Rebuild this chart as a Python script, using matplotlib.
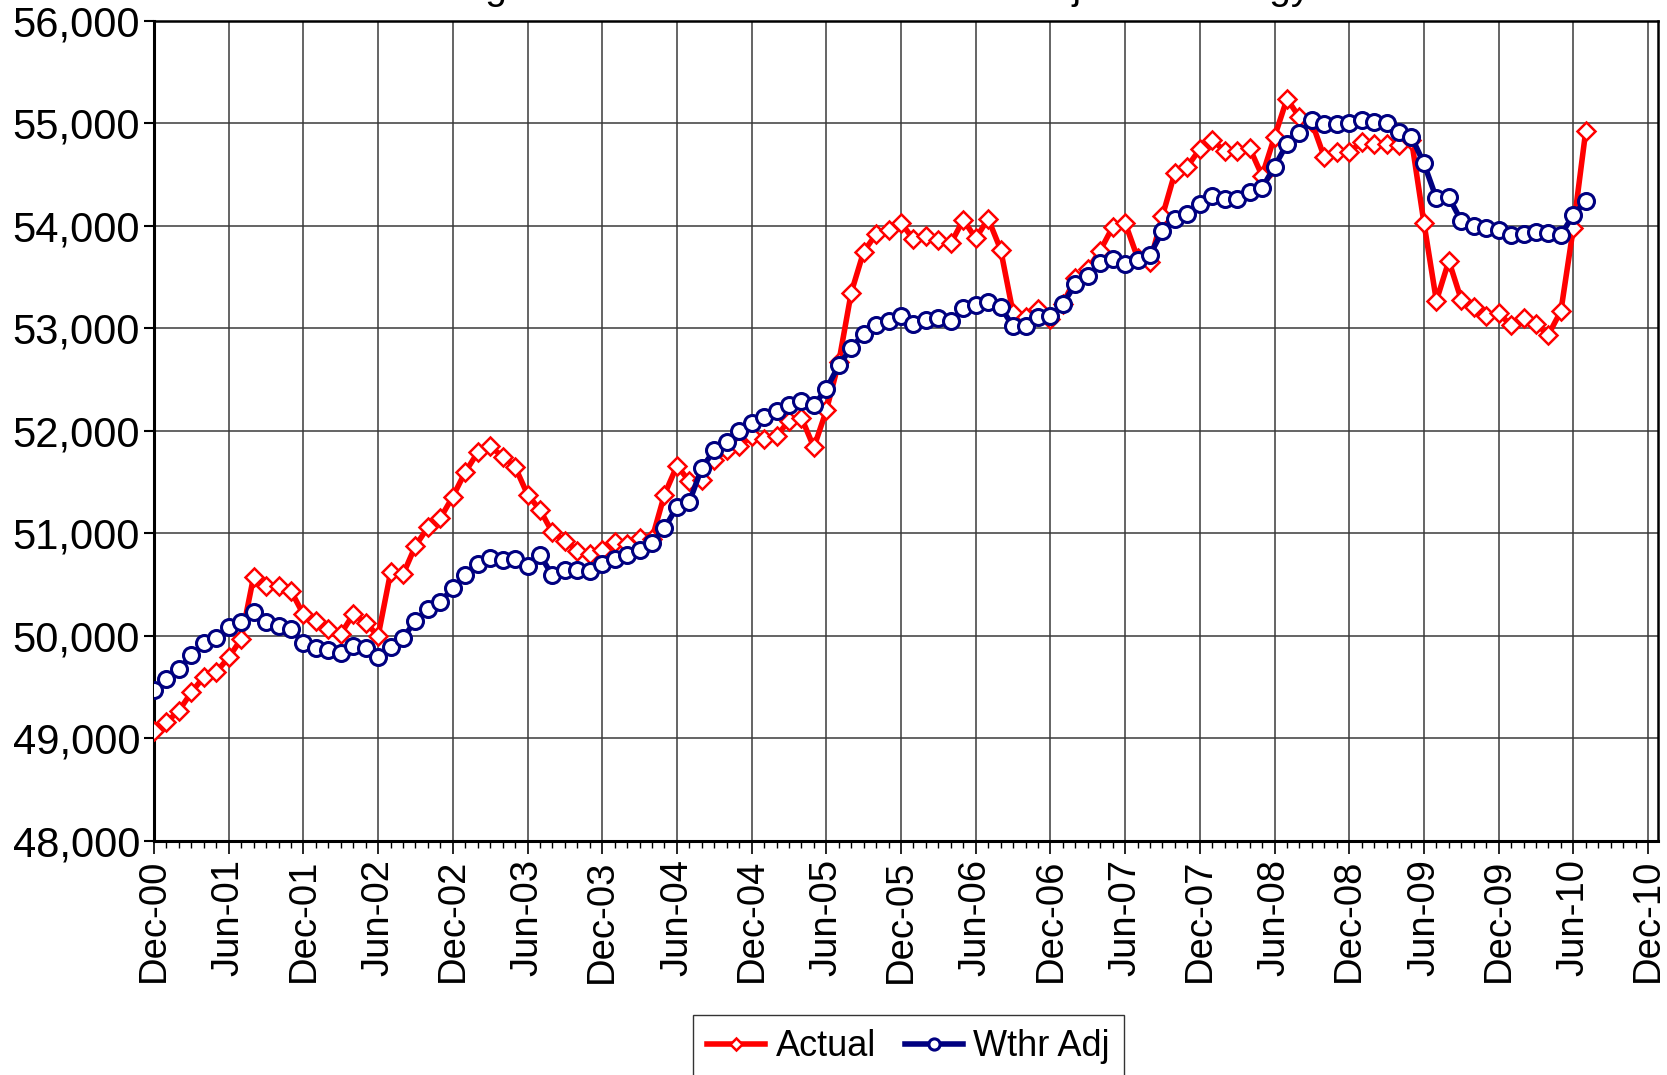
import matplotlib
matplotlib.use("Agg")
import matplotlib.pyplot as plt
from matplotlib.ticker import FuncFormatter, MultipleLocator

plt.rcParams['font.family'] = ['Liberation Sans', 'DejaVu Sans']

# monthly values, Dec-00 .. Jul-10
actual = [49070, 49160, 49270, 49450, 49600, 49650, 49790, 49970, 50580, 50490,
          50490, 50440, 50210, 50150, 50070, 50020, 50210, 50130, 50000, 50620,
          50600, 50880, 51060, 51150, 51360, 51600, 51790, 51850, 51750, 51650,
          51380, 51230, 51010, 50930, 50830, 50800, 50840, 50920, 50900, 50960,
          50950, 51380, 51660, 51510, 51520, 51720, 51810, 51850, 51950, 51920,
          51950, 52100, 52130, 51840, 52200, 52670, 53350, 53750, 53920, 53960,
          54030, 53870, 53900, 53860, 53830, 54060, 53880, 54070, 53770, 53150,
          53110, 53190, 53090, 53240, 53490, 53580, 53760, 53990, 54030, 53690,
          53650, 54100, 54520, 54580, 54750, 54840, 54730, 54730, 54760, 54490,
          54870, 55240, 55060, 55010, 54670, 54720, 54720, 54820, 54800, 54800,
          54790, 54840, 54030, 53270, 53660, 53280, 53210, 53120, 53150, 53030,
          53100, 53040, 52940, 53170, 53980, 54930]
wthr_adj = [49470, 49580, 49680, 49810, 49930, 49980, 50090, 50140, 50230, 50140,
            50100, 50070, 49930, 49880, 49860, 49830, 49900, 49880, 49790, 49890,
            49980, 50150, 50260, 50330, 50470, 50590, 50700, 50760, 50740, 50750,
            50680, 50790, 50590, 50640, 50640, 50630, 50700, 50750, 50790, 50840,
            50910, 51050, 51260, 51310, 51640, 51810, 51890, 52000, 52080, 52140,
            52190, 52250, 52290, 52250, 52410, 52640, 52810, 52950, 53030, 53070,
            53120, 53040, 53080, 53100, 53070, 53200, 53230, 53260, 53210, 53020,
            53020, 53110, 53120, 53240, 53430, 53510, 53640, 53680, 53630, 53670,
            53720, 53950, 54070, 54120, 54210, 54290, 54260, 54260, 54330, 54370,
            54580, 54800, 54910, 55030, 54990, 54990, 55000, 55030, 55010, 55000,
            54920, 54870, 54610, 54270, 54280, 54050, 54000, 53980, 53960, 53910,
            53920, 53940, 53930, 53910, 54110, 54240]

tick_labels = ['Dec-00', 'Jun-01', 'Dec-01', 'Jun-02', 'Dec-02', 'Jun-03', 'Dec-03',
               'Jun-04', 'Dec-04', 'Jun-05', 'Dec-05', 'Jun-06', 'Dec-06', 'Jun-07',
               'Dec-07', 'Jun-08', 'Dec-08', 'Jun-09', 'Dec-09', 'Jun-10', 'Dec-10']

months = list(range(len(actual)))

fig = plt.figure(figsize=(16.67, 10.75), dpi=100)
ax = fig.add_axes([0.0924, 0.2177, 0.9022, 0.7628])

ax.plot(months, actual, color='#ff0000', lw=4.0, marker='D', ms=9,
        mfc='white', mec='#ff0000', mew=1.8, label='Actual', zorder=3)
ax.plot(months, wthr_adj, color='#000080', lw=4.0, marker='o', ms=11.5,
        mfc='white', mec='#000080', mew=2.2, label='Wthr Adj', zorder=4)

ax.set_xlim(0, 120.8)
ax.set_ylim(48000, 56000)
ax.set_xticks(range(0, 121, 6))
ax.set_xticklabels(tick_labels, rotation=90, fontsize=27.5)
ax.xaxis.set_minor_locator(MultipleLocator(1))
ax.yaxis.set_major_locator(MultipleLocator(1000))
ax.yaxis.set_major_formatter(FuncFormatter(lambda v, p: f'{v:,.0f}'))
ax.tick_params(axis='y', labelsize=30, direction='out', length=7, width=1.5, pad=3)
ax.tick_params(axis='x', which='major', direction='out', length=9, width=1.2, pad=4)
ax.tick_params(axis='x', which='minor', direction='out', length=5, width=1.0)

ax.grid(True, which='major', color='#3a3a3a', lw=1.1)
ax.set_axisbelow(True)
for side in ['left', 'bottom']:
    ax.spines[side].set_linewidth(2.2)
for side in ['top', 'right']:
    ax.spines[side].set_linewidth(1.8)

# title sits above the top edge, only descenders show, as in the source image
fig.text(1310 / 1667, 1 + 1 / 1075, 'Rolling 12-Month Actual vs. Weather Adjusted Energy',
         ha='right', va='baseline', fontsize=28)

leg = fig.legend(loc='upper center', bbox_to_anchor=(0.545, 1 - 1015 / 1075), ncol=2,
                 fontsize=26, frameon=True, fancybox=False, edgecolor='black',
                 handlelength=1.6, markerscale=0.7, columnspacing=0.8,
                 handletextpad=0.3, borderpad=0.4, borderaxespad=0)
leg.get_frame().set_linewidth(1.0)

fig.savefig('out.png', dpi=100)
